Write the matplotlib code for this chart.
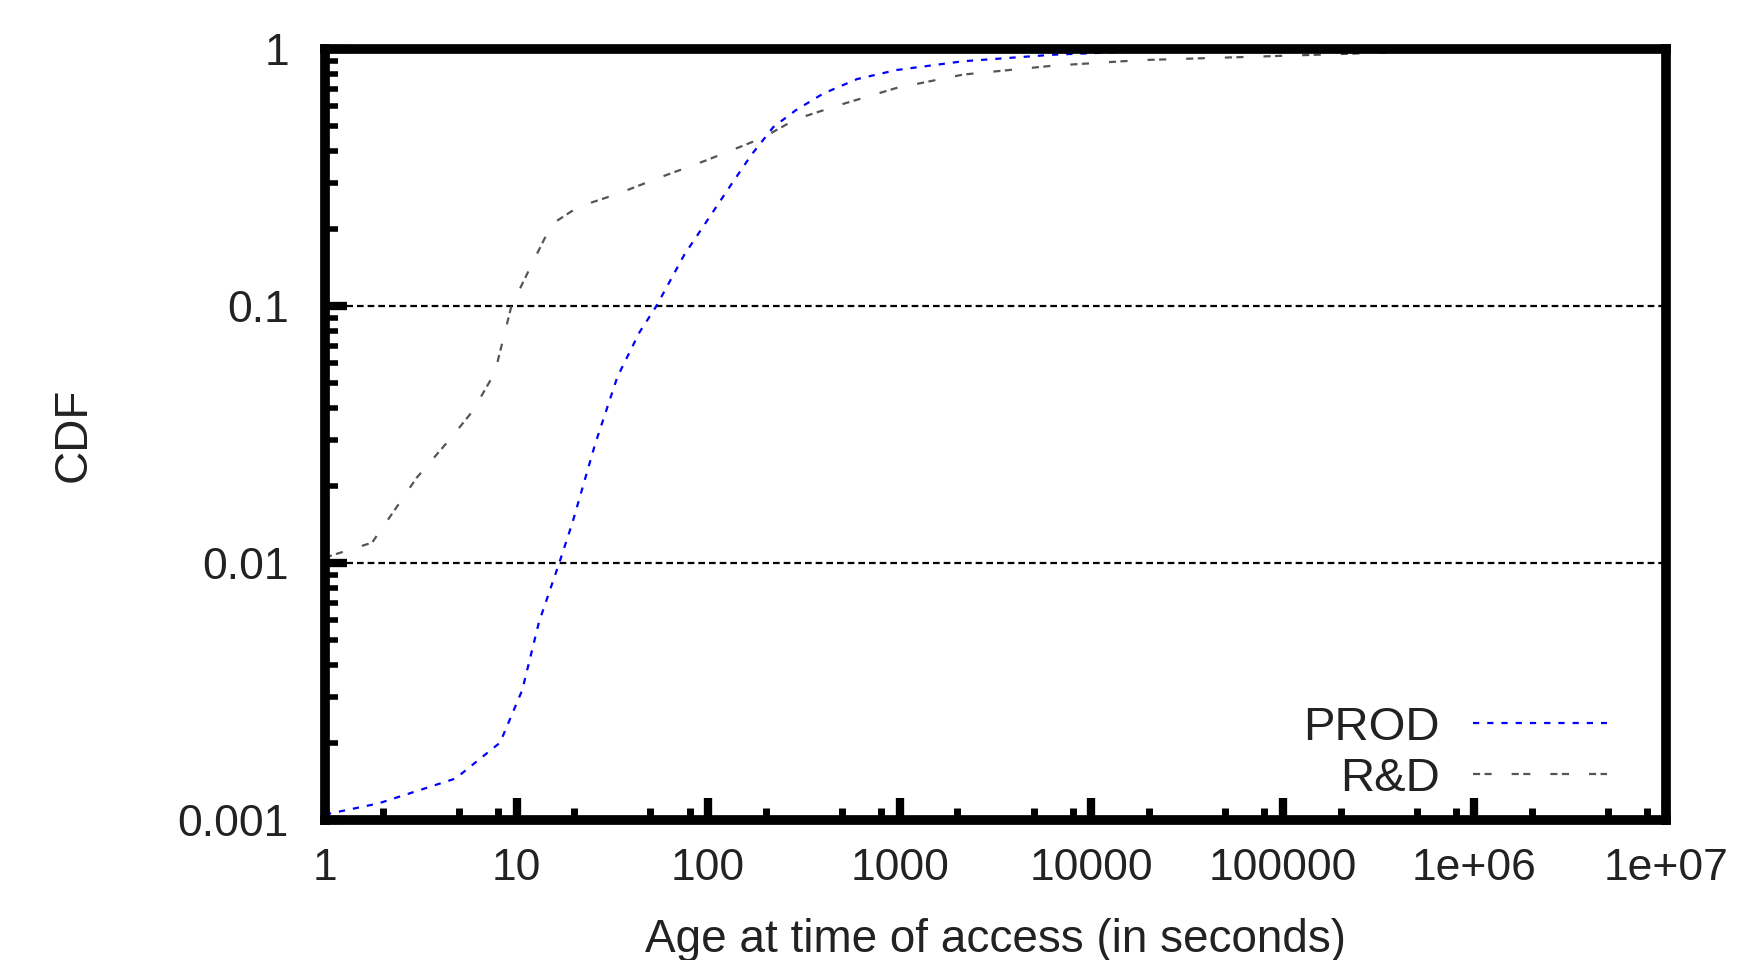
import matplotlib
matplotlib.use("Agg")
import matplotlib.pyplot as plt
from matplotlib.ticker import LogLocator, FixedLocator, NullFormatter

# PROD curve (age in seconds, CDF)
prod_x = [1, 1.9, 4.8, 8.2, 10.7, 13.1, 16.7, 19.6, 25.7, 33.6, 43.8, 53.7, 75, 98,
          128, 168, 219, 287, 399, 600, 960, 2140, 6300, 18000, 55000]
prod_y = [0.00105, 0.00116, 0.00145, 0.002, 0.0032, 0.0059, 0.01, 0.0144, 0.029, 0.053,
          0.079, 0.1, 0.158, 0.213, 0.287, 0.387, 0.497, 0.578, 0.671, 0.764, 0.828,
          0.896, 0.95, 0.98, 0.99]

# R&D curve
rd_x = [1, 1.76, 2.3, 3.0, 4.5, 5.9, 7.7, 9.4, 11.5, 14, 16, 21, 33.6, 57, 98, 191,
        287, 490, 960, 2140, 6300, 18000, 70000, 370000]
rd_y = [0.0105, 0.012, 0.016, 0.0214, 0.0304, 0.039, 0.055, 0.1, 0.136, 0.183, 0.213,
        0.243, 0.273, 0.318, 0.369, 0.45, 0.533, 0.607, 0.705, 0.795, 0.861, 0.905,
        0.933, 0.97]

ytick_vals = [0.001, 0.01, 0.1, 1]
ytick_labels = ["0.001", "0.01", "0.1", "1"]
xtick_vals = [1, 10, 100, 1000, 10000, 100000, 1e6, 1e7]
xtick_labels = ["1", "10", "100", "1000", "10000", "100000", "1e+06", "1e+07"]
grid_levels = [0.01, 0.1]

plt.rcParams['font.family'] = ['Liberation Sans', 'DejaVu Sans']

fig = plt.figure(figsize=(17.42, 9.6), dpi=100)
ax = fig.add_axes([325 / 1742, 1 - 820 / 960, (1666 - 325) / 1742, (820 - 49) / 960])

ax.plot(prod_x, prod_y, color='#0000ff', lw=1.6, dashes=(2.8, 3.6), label='PROD')
ax.plot(rd_x, rd_y, color='#555555', lw=1.6, dashes=(3.2, 2.0, 3.2, 9.0), label='R&D')

for g in grid_levels:
    ax.axhline(g, color='black', lw=1.6, dashes=(3, 1.8), zorder=1)

ax.set_xscale('log')
ax.set_yscale('log')
ax.set_xlim(1, 1e7)
ax.set_ylim(0.001, 1)

ax.xaxis.set_major_locator(FixedLocator(xtick_vals))
ax.set_xticklabels(xtick_labels)
ax.yaxis.set_major_locator(FixedLocator(ytick_vals))
ax.set_yticklabels(ytick_labels)
# the x axis only shows a few minor ticks per decade
ax.xaxis.set_minor_locator(LogLocator(base=10, subs=[2, 5, 8]))
ax.yaxis.set_minor_locator(LogLocator(base=10, subs=[2, 3, 4, 5, 6, 7, 8, 9]))
ax.xaxis.set_minor_formatter(NullFormatter())
ax.yaxis.set_minor_formatter(NullFormatter())

ax.tick_params(which='both', direction='in', top=False, right=False, colors='black')
ax.tick_params(which='major', length=16, width=6, labelsize=32, labelcolor='#222222', pad=20)
ax.tick_params(which='minor', length=9, width=5)
ax.tick_params(axis='y', which='major', pad=26)
ax.tick_params(axis='y', which='minor', width=4)

for s in ax.spines.values():
    s.set_linewidth(7)

ax.set_ylabel('CDF', fontsize=33, color='#222222', labelpad=59)
ax.set_xlabel('Age at time of access (in seconds)', fontsize=33, color='#222222', labelpad=21)

leg = ax.legend(loc='lower right', bbox_to_anchor=(0.988, -0.03), frameon=False,
                markerfirst=False, fontsize=34, handlelength=2.85, handletextpad=0.7,
                labelspacing=0.15, alignment='right')
for t in leg.get_texts():
    t.set_color('#222222')
    t.set_ha('right')

fig.savefig('out.png', dpi=100, facecolor='white')
